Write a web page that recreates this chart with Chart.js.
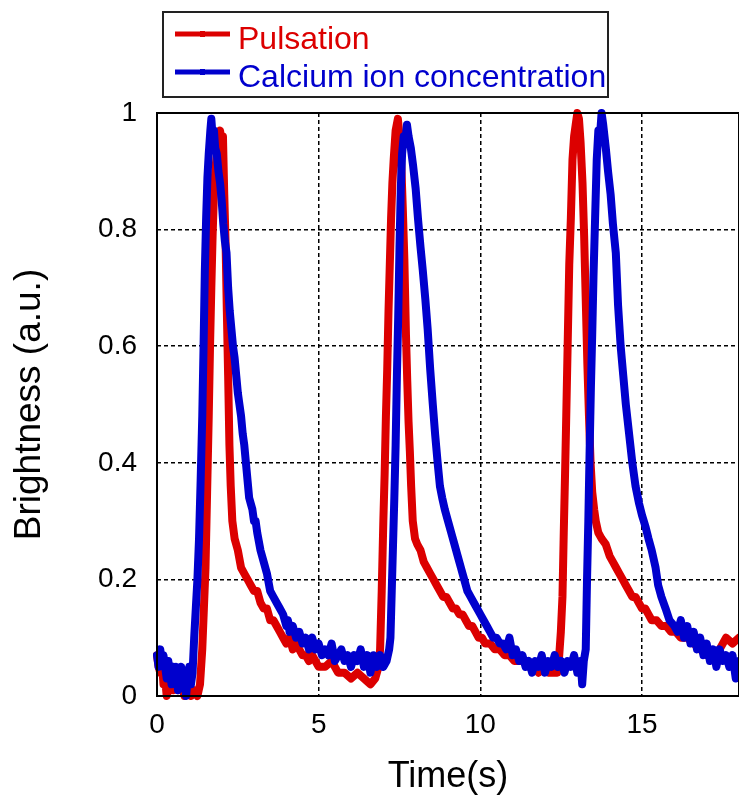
<!DOCTYPE html>
<html>
<head>
<meta charset="utf-8">
<script src="https://cdn.jsdelivr.net/npm/chart.js@4.4.1/dist/chart.umd.min.js"></script>
<style>
  html, body { margin: 0; padding: 0; background: #fff; }
  #wrap { width: 739px; height: 803px; }
</style>
</head>
<body>
<div id="wrap"><canvas id="chart" width="739" height="803"></canvas></div>
<script>
// Pulsation (red) - time in s, brightness in a.u.
const pulseTime = [
  0.00, 0.05, 0.10, 0.15, 0.20, 0.25, 0.30, 0.40, 0.50, 0.55, 0.65, 0.75, 0.85, 0.95, 1.05, 1.15, 1.25, 1.33,
  1.40, 1.45, 1.50, 1.55, 1.60, 1.64, 1.68, 1.72, 1.76, 1.80, 1.85, 1.90, 1.95, 2.00, 2.04, 2.08, 2.12, 2.16,
  2.20, 2.24, 2.28, 2.33, 2.40, 2.50, 2.60, 2.70, 2.80, 2.90, 3.00, 3.10, 3.20, 3.30, 3.40, 3.50, 3.60, 3.70,
  3.80, 3.90, 4.00, 4.10, 4.20, 4.30, 4.40, 4.50, 4.60, 4.70, 4.80, 4.90, 5.00, 5.20, 5.40, 5.60, 5.80, 6.00,
  6.20, 6.40, 6.60, 6.75, 6.85,
  6.90, 6.95, 7.00, 7.04, 7.08, 7.12, 7.16, 7.20, 7.24, 7.28, 7.32, 7.38, 7.45, 7.50, 7.55, 7.60, 7.65, 7.70,
  7.74, 7.78, 7.82, 7.86, 7.91, 7.98, 8.05, 8.15, 8.25, 8.35, 8.45, 8.55, 8.65, 8.75, 8.85, 8.95, 9.05, 9.15,
  9.25, 9.35, 9.45, 9.55, 9.65, 9.75, 9.85, 9.95, 10.05, 10.15, 10.30, 10.45, 10.60, 10.75, 10.90, 11.05,
  11.20, 11.35, 11.50, 11.65, 11.80, 11.95, 12.10, 12.25, 12.38,
  12.44, 12.49, 12.54, 12.58, 12.62, 12.65, 12.70, 12.75, 12.80, 12.85, 12.90, 12.95, 13.00, 13.05, 13.10,
  13.16, 13.21, 13.26, 13.31, 13.36, 13.41, 13.46, 13.52, 13.57, 13.65, 13.75, 13.88, 14.00, 14.10, 14.20,
  14.30, 14.40, 14.50, 14.60, 14.70, 14.80, 14.90, 15.00, 15.10, 15.20, 15.30, 15.45, 15.60, 15.75, 15.90,
  16.05, 16.20, 16.40, 16.60, 16.80, 17.00, 17.20, 17.40, 17.60, 17.80, 18.00
];
const pulseValue = [
  0.07, 0.05, 0.04, 0.06, 0.02, 0.03, 0.00, 0.02, 0.01, 0.03, 0.01, 0.02, 0.00, 0.02, 0.00, 0.01, 0.00, 0.02,
  0.08, 0.15, 0.22, 0.35, 0.48, 0.60, 0.70, 0.79, 0.86, 0.90, 0.93, 0.96, 0.97, 0.95, 0.96, 0.86, 0.78, 0.66,
  0.55, 0.43, 0.36, 0.30, 0.27, 0.25, 0.22, 0.21, 0.20, 0.19, 0.18, 0.18, 0.16, 0.15, 0.15, 0.13, 0.13, 0.12,
  0.11, 0.10, 0.09, 0.10, 0.08, 0.09, 0.08, 0.07, 0.07, 0.06, 0.07, 0.06, 0.05, 0.05, 0.06, 0.04, 0.04, 0.03,
  0.04, 0.03, 0.02, 0.03, 0.05,
  0.08, 0.18, 0.30, 0.38, 0.48, 0.56, 0.66, 0.74, 0.82, 0.88, 0.92, 0.97, 0.99, 0.96, 0.92, 0.84, 0.75, 0.62,
  0.54, 0.47, 0.42, 0.36, 0.30, 0.27, 0.26, 0.25, 0.23, 0.22, 0.21, 0.20, 0.19, 0.18, 0.17, 0.17, 0.16, 0.15,
  0.15, 0.14, 0.14, 0.13, 0.12, 0.12, 0.11, 0.10, 0.10, 0.09, 0.09, 0.08, 0.08, 0.07, 0.07, 0.06,
  0.06, 0.06, 0.05, 0.05, 0.04, 0.05, 0.04, 0.04, 0.04,
  0.07, 0.11, 0.17, 0.28, 0.38, 0.46, 0.60, 0.74, 0.82, 0.92, 0.96, 0.98, 1.00, 0.99, 0.95,
  0.88, 0.79, 0.68, 0.57, 0.48, 0.40, 0.35, 0.32, 0.30, 0.28, 0.27, 0.26, 0.24, 0.23, 0.22,
  0.21, 0.20, 0.19, 0.18, 0.17, 0.17, 0.16, 0.15, 0.15, 0.14, 0.13, 0.13, 0.12, 0.12, 0.11,
  0.11, 0.10, 0.10, 0.09, 0.08, 0.07, 0.07, 0.08, 0.10, 0.09, 0.10
];

// Calcium ion concentration (blue)
const calciumTime = [
  0.00, 0.05, 0.10, 0.15, 0.20, 0.25, 0.30, 0.35, 0.40, 0.45, 0.50, 0.55, 0.60, 0.65, 0.70, 0.75, 0.80, 0.85,
  0.90, 0.95, 1.00, 1.05, 1.10, 1.15, 1.20, 1.25, 1.30, 1.35, 1.40, 1.44, 1.48, 1.52, 1.56, 1.60, 1.65, 1.68,
  1.72, 1.76, 1.80, 1.85, 1.90, 1.95, 2.00, 2.05, 2.10, 2.15, 2.20, 2.25, 2.30, 2.35, 2.40, 2.45, 2.50, 2.55,
  2.60, 2.65, 2.70, 2.75, 2.80, 2.85, 2.90, 2.95, 3.00, 3.05, 3.10, 3.20, 3.30, 3.40, 3.50, 3.60, 3.70, 3.80,
  3.90, 4.00, 4.05, 4.10, 4.20, 4.30, 4.40, 4.50, 4.60, 4.70, 4.80, 4.90, 5.00, 5.10, 5.20, 5.30, 5.40, 5.50,
  5.60, 5.70, 5.80, 5.90, 6.00, 6.10, 6.20, 6.30, 6.40, 6.50, 6.60, 6.70, 6.80, 6.90, 7.00, 7.10, 7.18,
  7.22, 7.26, 7.30, 7.34, 7.38, 7.42, 7.46, 7.50, 7.54, 7.58, 7.63, 7.68, 7.73, 7.78, 7.85, 7.92, 8.00, 8.07,
  8.15, 8.22, 8.30, 8.37, 8.45, 8.53, 8.60, 8.68, 8.75, 8.82, 8.90, 9.00, 9.10, 9.20, 9.30, 9.40, 9.50, 9.60,
  9.70, 9.80, 9.90, 10.00, 10.10, 10.20, 10.30, 10.40, 10.50, 10.60, 10.70, 10.80, 10.90, 11.00, 11.10,
  11.20, 11.30, 11.40, 11.50, 11.60, 11.70, 11.80, 11.90, 12.00, 12.10, 12.20, 12.30, 12.40, 12.50, 12.60,
  12.70, 12.80, 12.90, 13.00, 13.10, 13.15, 13.20, 13.26,
  13.30, 13.34, 13.38, 13.42, 13.46, 13.50, 13.55, 13.60, 13.65, 13.70, 13.75, 13.80, 13.88, 13.95, 14.03,
  14.10, 14.19, 14.26, 14.34, 14.42, 14.50, 14.60, 14.70, 14.80, 14.91, 15.00, 15.11, 15.20, 15.30, 15.42,
  15.50, 15.60, 15.73, 15.85, 16.00, 16.10, 16.20, 16.30, 16.40, 16.50, 16.60, 16.70, 16.80, 16.90, 17.00,
  17.10, 17.20, 17.30, 17.40, 17.50, 17.60, 17.70, 17.80, 17.90, 18.00
];
const calciumValue = [
  0.07, 0.05, 0.08, 0.06, 0.07, 0.05, 0.03, 0.06, 0.04, 0.02, 0.05, 0.03, 0.05, 0.01, 0.04, 0.05, 0.02, 0.04,
  0.00, 0.03, 0.05, 0.02, 0.04, 0.10, 0.15, 0.20, 0.27, 0.37, 0.48, 0.60, 0.73, 0.82, 0.89, 0.93, 0.97, 0.99,
  0.96, 0.97, 0.94, 0.93, 0.90, 0.88, 0.85, 0.81, 0.78, 0.76, 0.70, 0.66, 0.63, 0.60, 0.58, 0.55, 0.52, 0.50,
  0.48, 0.45, 0.43, 0.40, 0.37, 0.34, 0.33, 0.32, 0.30, 0.30, 0.28, 0.25, 0.23, 0.21, 0.18, 0.17, 0.16, 0.15,
  0.14, 0.12, 0.13, 0.11, 0.12, 0.10, 0.11, 0.09, 0.10, 0.08, 0.10, 0.08, 0.09, 0.07, 0.08, 0.07, 0.09, 0.06,
  0.07, 0.08, 0.06, 0.07, 0.05, 0.07, 0.06, 0.08, 0.05, 0.07, 0.04, 0.07, 0.05, 0.07, 0.05, 0.06, 0.08,
  0.10, 0.18, 0.26, 0.34, 0.43, 0.55, 0.65, 0.77, 0.87, 0.93, 0.96, 0.95, 0.98, 0.96, 0.94, 0.91, 0.87, 0.82,
  0.77, 0.73, 0.68, 0.63, 0.56, 0.50, 0.45, 0.40, 0.36, 0.34, 0.32, 0.30, 0.28, 0.26, 0.24, 0.22, 0.20, 0.18,
  0.17, 0.16, 0.15, 0.14, 0.13, 0.12, 0.11, 0.10, 0.10, 0.09, 0.09, 0.08, 0.10, 0.07, 0.08,
  0.06, 0.07, 0.05, 0.06, 0.04, 0.06, 0.05, 0.07, 0.04, 0.06, 0.05, 0.07, 0.05, 0.06, 0.04,
  0.06, 0.05, 0.07, 0.04, 0.06, 0.02, 0.06, 0.08,
  0.20, 0.30, 0.42, 0.53, 0.62, 0.72, 0.82, 0.92, 0.97, 0.96, 1.00, 0.98, 0.94, 0.90, 0.86,
  0.81, 0.76, 0.67, 0.60, 0.55, 0.50, 0.45, 0.40, 0.36, 0.33, 0.31, 0.29, 0.27, 0.25, 0.22,
  0.19, 0.17, 0.15, 0.13, 0.12, 0.11, 0.13, 0.10, 0.12, 0.09, 0.11, 0.08, 0.10, 0.07, 0.09,
  0.06, 0.08, 0.05, 0.08, 0.06, 0.07, 0.05, 0.07, 0.03, 0.06
];

const xTicks = [0, 5, 10, 15];
const yTicks = [0, 0.2, 0.4, 0.6, 0.8, 1];

const RED = '#dc0000';
const BLUE = '#0000cd';
const FONT = "'Liberation Sans', Arial, sans-serif";

// legend drawn as a framed box above the plot, plus the full plot frame
const framePlugin = {
  id: 'frameAndLegend',
  afterDraw(chart) {
    const ctx = chart.ctx;
    const a = chart.chartArea;
    ctx.save();
    ctx.setLineDash([]);
    ctx.strokeStyle = '#000';
    ctx.lineWidth = 2;
    ctx.strokeRect(a.left, a.top, a.right - a.left, a.bottom - a.top);

    ctx.strokeStyle = '#222';
    ctx.strokeRect(163, 12, 445, 85);
    const items = [chart.data.datasets[1], chart.data.datasets[0]];
    ctx.font = '32px ' + FONT;
    ctx.textBaseline = 'alphabetic';
    items.forEach((ds, i) => {
      const ly = 34 + i * 38;
      ctx.strokeStyle = ds.borderColor;
      ctx.lineWidth = 5;
      ctx.beginPath();
      ctx.moveTo(175, ly);
      ctx.lineTo(230, ly);
      ctx.stroke();
      ctx.fillStyle = ds.borderColor;
      ctx.fillRect(200, ly - 3, 5, 6);
      ctx.fillText(ds.label, 238, ly + 15);
    });
    ctx.restore();
  }
};

const toPoints = (xs, ys) => xs.map((x, i) => ({ x: x, y: ys[i] }));

const lineStyle = {
  borderWidth: 8,
  borderJoinStyle: 'round',
  borderCapStyle: 'round',
  pointRadius: 0,
  tension: 0,
  clip: 6
};

new Chart(document.getElementById('chart'), {
  type: 'line',
  data: {
    datasets: [
      Object.assign({
        label: 'Calcium ion concentration',
        data: toPoints(calciumTime, calciumValue),
        borderColor: BLUE,
        order: 0
      }, lineStyle),
      Object.assign({
        label: 'Pulsation',
        data: toPoints(pulseTime, pulseValue),
        borderColor: RED,
        order: 1
      }, lineStyle)
    ]
  },
  options: {
    responsive: false,
    animation: false,
    layout: { padding: { top: 113, right: 0, bottom: 0, left: 0 } },
    plugins: { legend: { display: false }, tooltip: { enabled: false } },
    scales: {
      x: {
        type: 'linear',
        min: 0,
        max: 18,
        afterFit: s => { s.height = 107; },
        afterBuildTicks: s => { s.ticks = xTicks.map(v => ({ value: v })); },
        ticks: { color: '#000', font: { family: FONT, size: 28 }, padding: 12, callback: v => String(v) },
        grid: { color: '#000', lineWidth: 1.5, drawTicks: false },
        border: { display: false, dash: [4, 3] },
        title: { display: true, text: 'Time(s)', color: '#000', font: { family: FONT, size: 36 }, padding: { top: 4, bottom: 4 } }
      },
      y: {
        min: 0,
        max: 1,
        afterFit: s => { s.width = 157; },
        afterBuildTicks: s => { s.ticks = yTicks.map(v => ({ value: v })); },
        ticks: { color: '#000', font: { family: FONT, size: 28 }, padding: 20, callback: v => String(v) },
        grid: { color: '#000', lineWidth: 1.5, drawTicks: false },
        border: { display: false, dash: [4, 3] },
        title: { display: true, text: 'Brightness (a.u.)', color: '#000', font: { family: FONT, size: 37 }, padding: { top: 8, bottom: 4 } }
      }
    }
  },
  plugins: [framePlugin]
});
</script>
</body>
</html>
